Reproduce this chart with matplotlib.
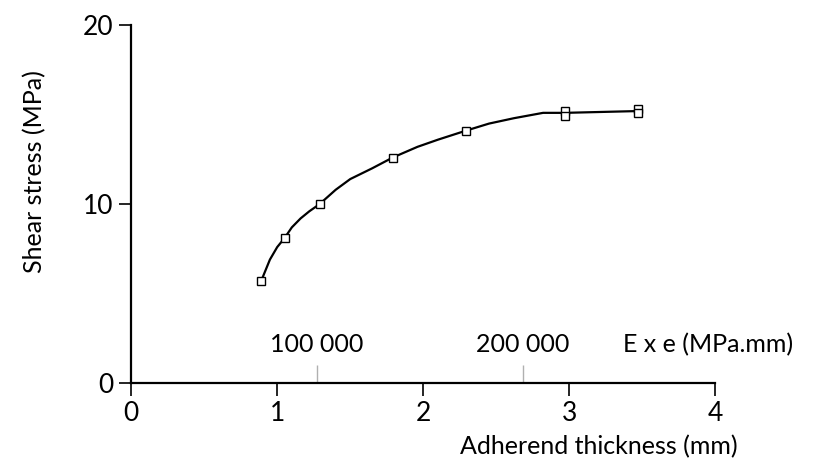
import matplotlib
matplotlib.use('Agg')
import matplotlib.pyplot as plt

# Curva (espesor en mm, esfuerzo en MPa)
curve_x = [0.89, 0.92, 0.95, 1.00, 1.05, 1.10, 1.16, 1.22, 1.29, 1.40, 1.50, 1.65,
           1.79, 1.96, 2.10, 2.29, 2.45, 2.62, 2.82, 2.97, 3.47]
curve_y = [5.7, 6.3, 6.9, 7.6, 8.1, 8.7, 9.2, 9.6, 10.0, 10.8, 11.4, 12.0,
           12.6, 13.2, 13.6, 14.1, 14.5, 14.8, 15.1, 15.1, 15.2]

# Puntos medidos (cuadrados)
pts_x = [0.89, 1.05, 1.29, 1.79, 2.29, 2.97, 2.97, 3.47, 3.47]
pts_y = [5.7, 8.1, 10.0, 12.6, 14.1, 15.2, 14.9, 15.3, 15.1]

# Escala secundaria E x e
ee_pos = [1.27, 2.68]
ee_labels = ['100 000', '200 000']

plt.rcParams['font.family'] = ['Lato', 'DejaVu Sans']
fs = 18

fig = plt.figure(figsize=(8.3, 4.66), dpi=100)
ax = fig.add_axes([0.158, 0.178, 0.704, 0.768])

ax.plot(curve_x, curve_y, color='black', linewidth=1.6)
ax.plot(pts_x, pts_y, linestyle='none', marker='s', markersize=6,
        markerfacecolor='white', markeredgecolor='black', markeredgewidth=1.0)

# marcas de la escala E x e
ax.vlines(ee_pos, 0, 1.0, color='#b0b0b0', linewidth=1.0)
for p, lab in zip(ee_pos, ee_labels):
    ax.text(p, 1.5, lab, ha='center', va='bottom', fontsize=fs)
ax.text(3.95, 1.5, 'E x e (MPa.mm)', ha='center', va='bottom', fontsize=fs)

ax.set_xlim(0, 4)
ax.set_ylim(0, 20)
ax.set_xticks([0, 1, 2, 3, 4])
ax.set_yticks([0, 10, 20])
ax.tick_params(direction='out', length=9, width=1.2, labelsize=fs + 1, pad=4)

for s in ['top', 'right']:
    ax.spines[s].set_visible(False)
for s in ['left', 'bottom']:
    ax.spines[s].set_linewidth(1.6)

ax.set_xlabel('Adherend thickness (mm)', fontsize=fs)
ax.xaxis.set_label_coords(0.80, -0.145)
ax.set_ylabel('Shear stress (MPa)', fontsize=fs)
ax.yaxis.set_label_coords(-0.145, 0.59)

fig.savefig('out.png', dpi=100)
